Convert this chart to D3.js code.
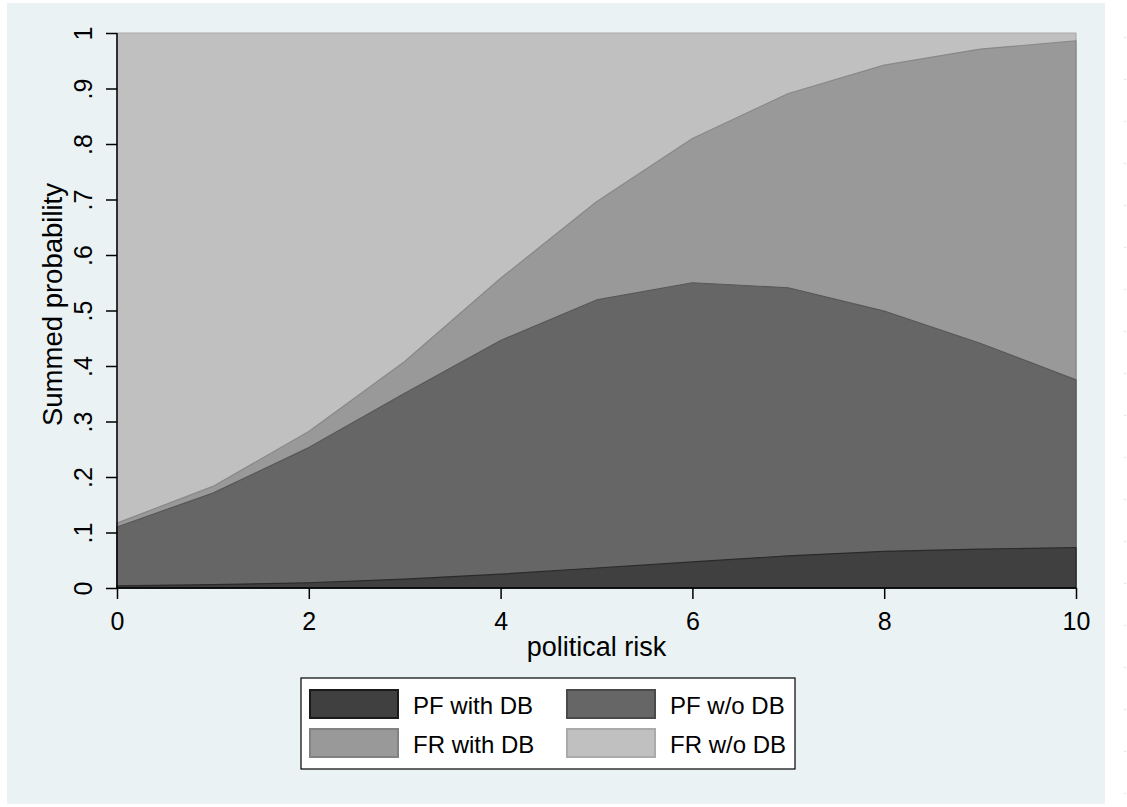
<!DOCTYPE html>
<html>
<head>
<meta charset="utf-8">
<script src="https://cdn.jsdelivr.net/npm/d3@7"></script>
<style>
  body { margin: 0; background: #fff; }
  svg { display: block; font-family: "Liberation Sans", Arial, sans-serif; }
</style>
</head>
<body>
<svg id="chart"></svg>
<script>
const W = 1127, H = 807;

// political risk values
const risk = [0, 1, 2, 3, 4, 5, 6, 7, 8, 9, 10];

// summed probabilities (cumulative)
const pfWithDB    = [0.004, 0.006, 0.0095, 0.016, 0.025, 0.036, 0.047, 0.058, 0.066, 0.070, 0.073];
const pfWithoutDB = [0.110, 0.171, 0.253, 0.351, 0.446, 0.519, 0.550, 0.541, 0.499, 0.441, 0.375];
const frWithDB    = [0.117, 0.183, 0.282, 0.408, 0.558, 0.696, 0.810, 0.891, 0.942, 0.971, 0.986];
const frWithoutDB = [1, 1, 1, 1, 1, 1, 1, 1, 1, 1, 1];

const xTicks = [0, 2, 4, 6, 8, 10];
const yTicks = [0, 0.1, 0.2, 0.3, 0.4, 0.5, 0.6, 0.7, 0.8, 0.9, 1];
const yTickLabels = ["0", ".1", ".2", ".3", ".4", ".5", ".6", ".7", ".8", ".9", "1"];

const series = [
  { name: "FR w/o DB",  values: frWithoutDB, fill: "#c0c0c0", stroke: "#aaaaaa", legStroke: "#aaaaaa" },
  { name: "FR with DB", values: frWithDB,    fill: "#999999", stroke: "#888888", legStroke: "#828282" },
  { name: "PF w/o DB",  values: pfWithoutDB, fill: "#666666", stroke: "#585858", legStroke: "#4a4a4a" },
  { name: "PF with DB", values: pfWithDB,    fill: "#404040", stroke: "#2a2a2a", legStroke: "#1a1a1a" }
];
const legendOrder = ["PF with DB", "PF w/o DB", "FR with DB", "FR w/o DB"];

const svg = d3.select("#chart").attr("width", W).attr("height", H);

// outer background
svg.append("rect").attr("x", 7).attr("y", 3).attr("width", 1098).attr("height", 801)
  .attr("fill", "#eaf2f3");

// faint dotted edge on the right
svg.append("line").attr("x1", 1125).attr("x2", 1125).attr("y1", 37).attr("y2", 807)
  .attr("stroke", "#c8c8c8").attr("stroke-width", 1).attr("stroke-dasharray", "1,41");

const x = d3.scaleLinear().domain([0, 10]).range([117, 1076]);
const y = d3.scaleLinear().domain([0, 1]).range([588, 33]);

const area = d3.area()
  .x((d, i) => x(risk[i]))
  .y0(y(0))
  .y1(d => y(d));

svg.append("g").selectAll("path")
  .data(series)
  .join("path")
  .attr("d", d => area(d.values))
  .attr("fill", d => d.fill)
  .attr("stroke", d => d.stroke)
  .attr("stroke-width", 1.2)
  .attr("stroke-linejoin", "round");

// axes
const yAxis = d3.axisLeft(y).tickValues(yTicks)
  .tickFormat((d, i) => yTickLabels[i]).tickSize(11).tickPadding(0);
const gy = svg.append("g").attr("transform", "translate(117,0)").call(yAxis);
gy.select(".domain").attr("stroke", "#000").attr("stroke-width", 1.5).attr("d", `M0,${y(1)}V${y(0)}`);
gy.selectAll(".tick line").attr("stroke", "#000").attr("stroke-width", 1.5);
gy.selectAll(".tick text")
  .attr("font-size", 25)
  .attr("fill", "#000")
  .attr("text-anchor", "middle")
  .attr("x", null).attr("dy", null)
  .attr("transform", "translate(-25,0) rotate(-90)");

const xAxis = d3.axisBottom(x).tickValues(xTicks).tickSize(11).tickPadding(0);
const gx = svg.append("g").attr("transform", "translate(0,588)").call(xAxis);
gx.select(".domain").attr("stroke", "#000").attr("stroke-width", 1.5).attr("d", `M${x(0)},0H${x(10)}`);
gx.selectAll(".tick line").attr("stroke", "#000").attr("stroke-width", 1.5);
gx.selectAll(".tick text")
  .attr("font-size", 25)
  .attr("fill", "#000")
  .attr("y", 42).attr("dy", null);

// axis titles
svg.append("text").attr("x", (x(0) + x(10)) / 2).attr("y", 656)
  .attr("text-anchor", "middle").attr("font-size", 27).text("political risk");
svg.append("text")
  .attr("transform", `translate(62,${(y(0) + y(1)) / 2 - 6}) rotate(-90)`)
  .attr("text-anchor", "middle").attr("font-size", 27.5).text("Summed probability");

// legend
const lg = svg.append("g");
lg.append("rect").attr("x", 301).attr("y", 678).attr("width", 494).attr("height", 91)
  .attr("fill", "#fff").attr("stroke", "#000").attr("stroke-width", 1.2);

const byName = new Map(series.map(s => [s.name, s]));
const item = lg.selectAll("g.item")
  .data(legendOrder.map(n => byName.get(n)))
  .join("g")
  .attr("class", "item")
  .attr("transform", (d, i) => `translate(${i % 2 ? 567 : 310},${i < 2 ? 690 : 729})`);
item.append("rect").attr("width", 88).attr("height", 28)
  .attr("fill", d => d.fill).attr("stroke", d => d.legStroke).attr("stroke-width", 2);
item.append("text").attr("x", 103).attr("y", 24).attr("font-size", 24)
  .attr("fill", "#000").text(d => d.name);
</script>
</body>
</html>
